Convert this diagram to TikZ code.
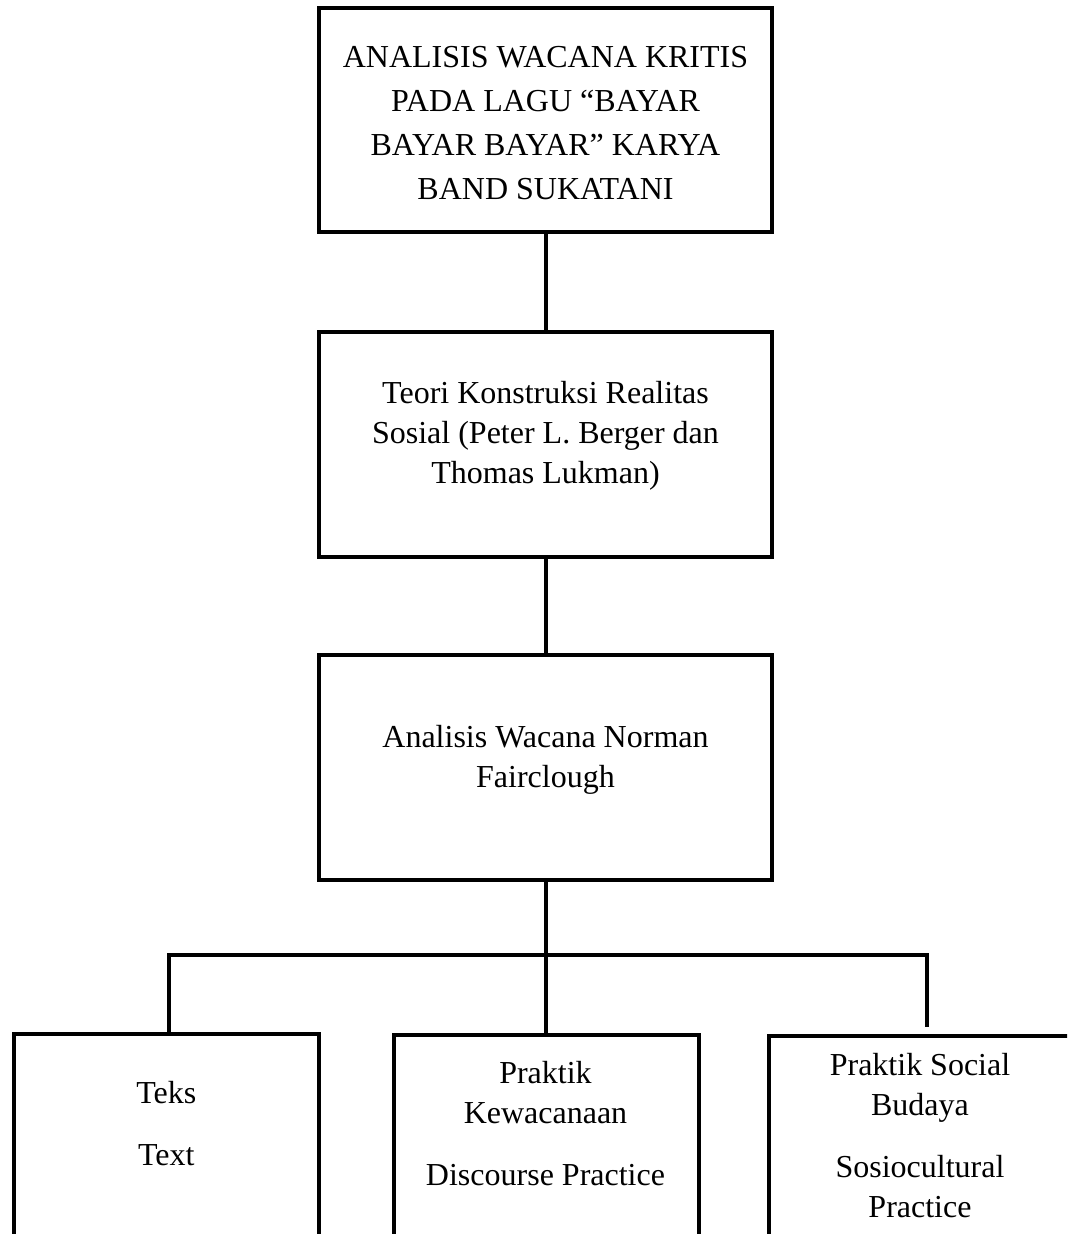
\documentclass[tikz,border=0pt]{standalone}
\usepackage{fontspec}
\setmainfont{Liberation Serif}
\begin{document}
\begin{tikzpicture}[x=0.75pt,y=-0.75pt,
  frame/.style={draw=black, line width=3pt, inner sep=0pt, fill=none},
  link/.style={draw=black, line width=3pt},
  lbl/.style={anchor=base, inner sep=0pt, text=black}]
\useasboundingbox (0,0) rectangle (1067,1234);
\fill[white] (0,0) rectangle (1067,1234);
\clip (0,0) rectangle (1067,1234);

% boxes
\node[frame, minimum width=339.75pt, minimum height=167.25pt] (b1) at (545.5,120) {};
\node[frame, minimum width=339.75pt, minimum height=168.75pt] (b2) at (545.5,444) {};
\node[frame, minimum width=339.75pt, minimum height=168.75pt] (b3) at (545.5,767.5) {};
\node[frame, minimum width=229.1pt, minimum height=157.9pt] (b4) at (166.25,1139.75) {};
\node[frame, minimum width=228.75pt, minimum height=157.5pt] (b5) at (546,1140) {};
\node[frame, minimum width=228pt, minimum height=157.1pt] (b6) at (920.5,1140.25) {};

% texts
\node[lbl] (t1) at (545.5,68) {\parbox[t]{330pt}{\centering\fontsize{24}{33}\selectfont
  ANALISIS WACANA KRITIS\\PADA LAGU “BAYAR\\BAYAR BAYAR” KARYA\\BAND SUKATANI}};
\node[lbl] (t2) at (545.5,403) {\parbox[t]{330pt}{\centering\fontsize{24}{30}\selectfont
  Teori Konstruksi Realitas\\Sosial (Peter L. Berger dan\\Thomas Lukman)}};
\node[lbl] (t3) at (545.5,747) {\parbox[t]{330pt}{\centering\fontsize{24}{30}\selectfont
  Analisis Wacana Norman\\Fairclough}};
\node[lbl] (t4) at (166.25,1103) {\parbox[t]{220pt}{\centering\fontsize{24}{30}\selectfont
  Teks\\[16.5pt]Text}};
\node[lbl] (t5) at (545.5,1083) {\parbox[t]{220pt}{\centering\fontsize{24}{30}\selectfont
  Praktik\\Kewacanaan\\[16.5pt]Discourse Practice}};
\node[lbl] (t6) at (920,1075) {\parbox[t]{220pt}{\centering\fontsize{24}{30}\selectfont
  Praktik Social\\Budaya\\[16.5pt]Sosiocultural\\Practice}};

% connectors
\draw[link] (b1) -- (b2);
\draw[link] (b2) -- (b3);
\draw[link] (b3.south) -- (b3.south |- b5.north);
\coordinate (jl) at (169,954.5);
\coordinate (jr) at (926.7,954.5);
\coordinate (rend) at (926.7,1027);
\draw[link] (jl |- b4.north) -- (jl) -- (jr) -- (rend);
\end{tikzpicture}
\end{document}
